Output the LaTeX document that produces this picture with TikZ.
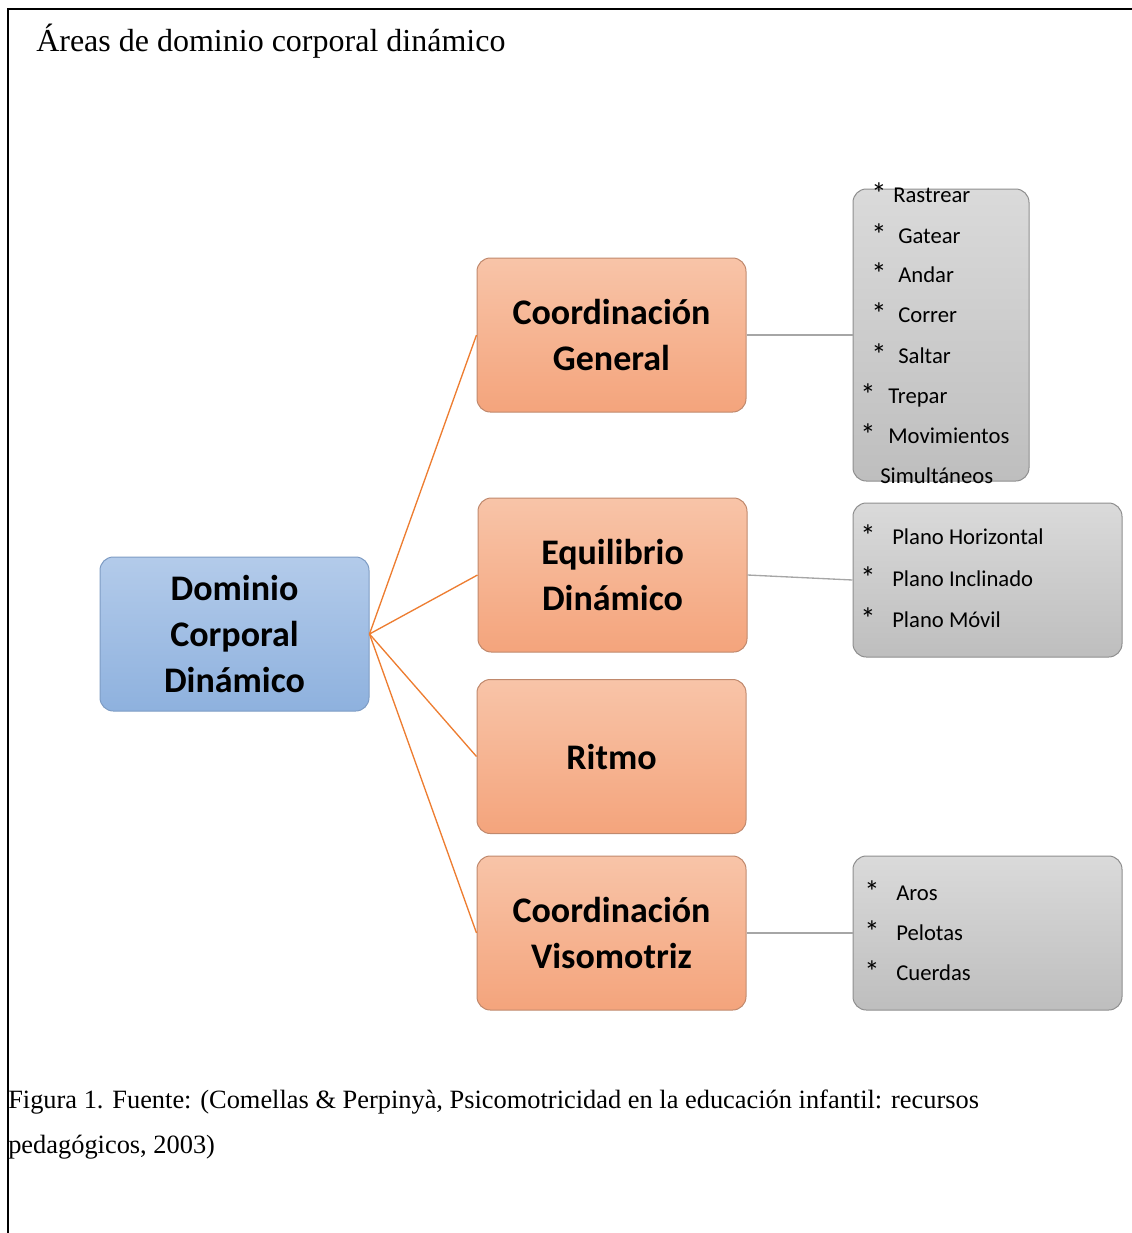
\documentclass[tikz,border=0pt]{standalone}
\usepackage{fontspec}
\setmainfont{Liberation Serif}
\newfontfamily\carlito{Carlito}

\definecolor{bluetop}{HTML}{B3CBEA}
\definecolor{bluebot}{HTML}{8EB1DE}
\definecolor{blueedge}{HTML}{7E9CC4}
\definecolor{orangetop}{HTML}{F8C4A8}
\definecolor{orangebot}{HTML}{F4A47C}
\definecolor{orangeedge}{HTML}{C0896D}
\definecolor{graytop}{HTML}{DADADA}
\definecolor{graybot}{HTML}{BEBEBE}
\definecolor{grayedge}{HTML}{8F8F8F}
\definecolor{linkorange}{HTML}{ED7D31}
\definecolor{linkgray}{HTML}{A6A6A6}

\newcommand{\bul}{\raisebox{-1.5pt}{\scalebox{1.35}{*}}}

\begin{document}
\begin{tikzpicture}[x=0.75pt,y=-0.75pt,
    box/.style={draw, rounded corners=10pt, line width=0.75pt, inner sep=0pt,
      minimum width=201.75pt, minimum height=115.5pt, align=center,
      font=\carlito\bfseries\fontsize{27}{34.5}\selectfont},
    rootbox/.style={box, draw=blueedge, top color=bluetop, bottom color=bluebot},
    areabox/.style={box, draw=orangeedge, top color=orangetop, bottom color=orangebot},
    listbox/.style={box, draw=grayedge, top color=graytop, bottom color=graybot},
    item/.style={anchor=base west, inner sep=0pt, font=\carlito\fontsize{17}{20}\selectfont},
    branch/.style={draw=linkorange, line width=1pt},
    leaf/.style={draw=linkgray, line width=1pt}]

    \useasboundingbox (0,0) rectangle (1132,1233);
    \draw[line width=1.5pt] (8,1233) -- (8,9) -- (1132,9);

    \node[anchor=base west, inner sep=0pt, font=\fontsize{24}{28}\selectfont] (title) at (36,51) {Áreas de dominio corporal dinámico};

    % mapa
    \node[rootbox] (dom) at (234.5,634) {Dominio\\Corporal\\Dinámico};
    \node[areabox] (cg) at (611.5,335) {Coordinación\\General};
    \node[areabox] (ed) at (612.5,575) {Equilibrio\\Dinámico};
    \node[areabox] (rit) at (611.5,756.5) {Ritmo};
    \node[areabox] (cv) at (611.5,933) {Coordinación\\Visomotriz};

    \node[listbox, minimum width=132pt, minimum height=219pt] (mov) at (941,335) {};
    \node[listbox] (pla) at (987.5,580) {};
    \node[listbox] (obj) at (987.5,933) {};

    \foreach \b in {cg,ed,rit,cv}
        \draw[branch] (dom.east) -- (\b.west);
    \draw[leaf] (cg.east) -- (mov.west);
    \draw[leaf] (ed.east) -- (pla.west);
    \draw[leaf] (cv.east) -- (obj.west);

    % listas
    \foreach \t/\x/\y/\g [count=\i] in {Rastrear/871/202/16.5, Gatear/871/243/20.25,
        Andar/871/282/20.25, Correr/871/322/20.25, Saltar/871/363/20.25,
        Trepar/860/403/21, Movimientos/860/443/21}
        \node[item] (mov\i) at (\x,\y) {\makebox[\g pt][l]{\bul}\t};
    \node[item] (mov8) at (880,483) {Simultáneos};

    \foreach \t/\y [count=\i] in {Plano Horizontal/544, Plano Inclinado/586, Plano Móvil/627}
        \node[item] (pla\i) at (860,\y) {\makebox[24pt][l]{\bul}\t};

    \foreach \t/\y [count=\i] in {Aros/900, Pelotas/940, Cuerdas/980}
        \node[item] (obj\i) at (864,\y) {\makebox[24pt][l]{\bul}\t};

    \node[anchor=base west, inner sep=0pt, font=\fontsize{19.8}{24}\selectfont] (cap1) at (8,1108)
        {Figura 1. Fuente: (Comellas \& Perpinyà, Psicomotricidad en la educación infantil: recursos};
    \node[anchor=base west, inner sep=0pt, font=\fontsize{19.8}{24}\selectfont] (cap2) at (8,1153)
        {pedagógicos, 2003)};

\end{tikzpicture}
\end{document}
